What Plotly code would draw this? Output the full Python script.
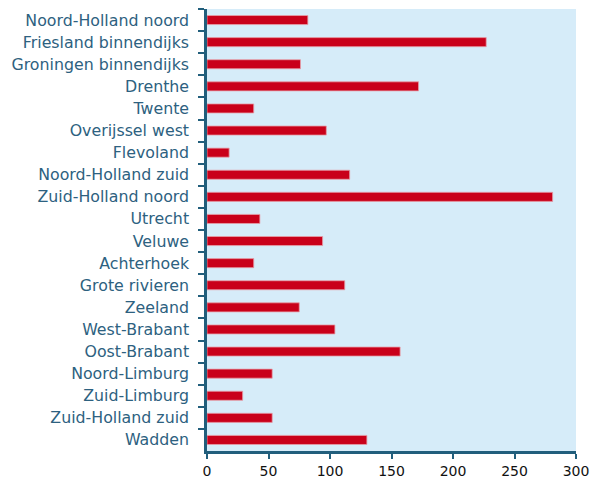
import plotly.graph_objects as go

regions = ["Noord-Holland noord", "Friesland binnendijks", "Groningen binnendijks", "Drenthe",
           "Twente", "Overijssel west", "Flevoland", "Noord-Holland zuid", "Zuid-Holland noord",
           "Utrecht", "Veluwe", "Achterhoek", "Grote rivieren", "Zeeland", "West-Brabant",
           "Oost-Brabant", "Noord-Limburg", "Zuid-Limburg", "Zuid-Holland zuid", "Wadden"]
values = [82, 227, 76, 172, 38, 97, 18, 116, 281, 43, 94, 38, 112, 75, 104, 157, 53, 29, 53, 130]
x_ticks = [0, 50, 100, 150, 200, 250, 300]

axis_color = "#215e7c"
label_color = "#2d6180"

fig = go.Figure(go.Bar(
    x=values, y=regions, orientation="h",
    marker=dict(color="#c9001a", line=dict(color="#e6a0aa", width=0.8)),
))

fig.update_layout(
    width=603, height=481,
    margin=dict(l=207, r=27, t=9, b=30),
    plot_bgcolor="#d6ecf9", paper_bgcolor="white",
    bargap=0.59, showlegend=False,
    font=dict(family="DejaVu Sans", size=14),
)
fig.update_yaxes(
    autorange="reversed", tickson="boundaries", ticks="outside", ticklen=6,
    tickcolor=axis_color, tickwidth=1.5,
    showline=True, linecolor=axis_color, linewidth=2.5,
    showgrid=False, tickfont=dict(color=label_color, size=15.8, family="DejaVu Sans"),
    ticklabelstandoff=12, automargin=False,
)
fig.update_xaxes(
    range=[0, 300], tickvals=x_ticks, ticks="outside", ticklen=5,
    tickcolor=axis_color, tickwidth=1.5,
    showline=True, linecolor=axis_color, linewidth=2.5,
    showgrid=False, zeroline=False,
    tickfont=dict(color="#111111", size=14, family="DejaVu Sans"),
    ticklabelstandoff=0, automargin=False,
)

fig.write_html("out.html", config={"displayModeBar": False},
               post_script="document.body.style.margin='0';")
